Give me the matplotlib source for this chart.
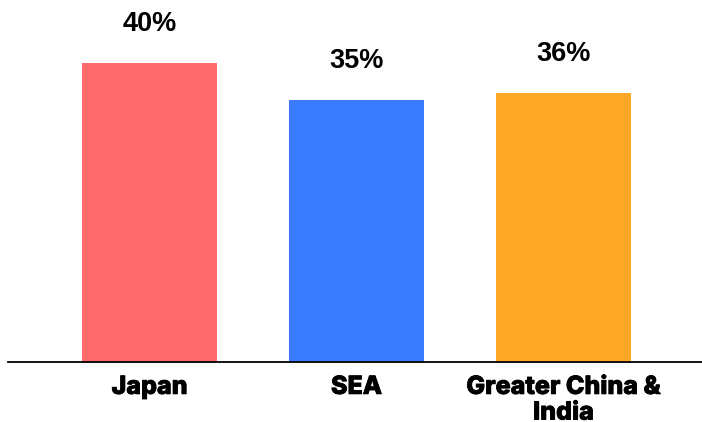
import numpy as np
import matplotlib
matplotlib.use('Agg')
import matplotlib.pyplot as plt
import matplotlib.patheffects as pe

# data
regions = ['Japan', 'SEA', 'Greater China &\nIndia']
shares = [40, 35, 36]
colors = ['#FF6B6D', '#3A7BFF', '#FFA726']

fig = plt.figure(figsize=(7.02, 4.22), dpi=100)
ax = fig.add_axes([8 / 702, 1 - 362 / 422, 694 / 702, 362 / 422])

x = np.arange(len(regions))
bars = ax.bar(x, shares, width=0.652, color=colors)

for rect, v in zip(bars, shares):
    ax.annotate(f'{v}%', (rect.get_x() + rect.get_width() / 2, v),
                xytext=(0, 23), textcoords='offset points',
                ha='center', va='baseline', fontsize=19.5, fontweight='bold',
                family='Liberation Sans')

ax.set_xlim(-0.6836, 2.669)
ax.set_ylim(0, 48.43)
ax.set_xticks(x)
ax.set_xticklabels(regions, fontsize=18, fontweight='heavy', family='Inter',
                   linespacing=1.15)
for t in ax.get_xticklabels():
    t.set_path_effects([pe.withStroke(linewidth=0.6, foreground='black')])
ax.tick_params(axis='x', length=0, pad=10)
ax.set_yticks([])
for s in ['top', 'right', 'left']:
    ax.spines[s].set_visible(False)
ax.spines['bottom'].set_linewidth(1.3)

fig.savefig('out.png', dpi=100)
